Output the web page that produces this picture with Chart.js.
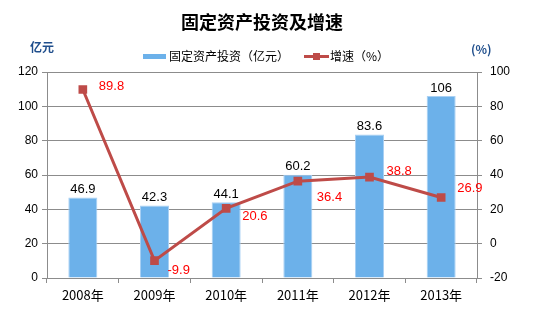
<!DOCTYPE html>
<html><head><meta charset="utf-8">
<script src="https://cdn.jsdelivr.net/npm/chart.js@4/dist/chart.umd.min.js"></script>
<style>html,body{margin:0;padding:0;background:#fff}#w{width:536px;height:322px}</style>
</head><body><div id="w"><canvas id="c" width="536" height="322"></canvas></div>
<script>
const categories = ['2008年','2009年','2010年','2011年','2012年','2013年'];
const investment = [46.9, 42.3, 44.1, 60.2, 83.6, 106];
const growth = [89.8, -9.9, 20.6, 36.4, 38.8, 26.9];
const investLabels = ['46.9','42.3','44.1','60.2','83.6','106'];
const growthLabels = ['89.8','-9.9','20.6','36.4','38.8','26.9'];
const leftTicks = [0,20,40,60,80,100,120];
const rightTicks = [-20,0,20,40,60,80,100];

const FONT = '"Liberation Sans","Noto Sans CJK SC",sans-serif';
const CJK = '"Noto Sans CJK SC","Liberation Sans",sans-serif';
const BAR = '#6CB1EA', LINE = '#BE4B48';
// label offsets (style) for growth labels: dx to left edge, dy to center
const gOff = [[16,-3],[13,10],[16,8],[19,16],[17,-6],[16,-9]];

const deco = {
  id:'deco',
  afterDraw(chart){
    const ctx = chart.ctx;
    ctx.save();
    ctx.textBaseline = 'middle';
    ctx.fillStyle = '#000';
    ctx.font = 'bold 18px ' + CJK;
    ctx.textAlign = 'center';
    ctx.fillText('固定资产投资及增速', 262, 22);
    ctx.fillStyle = '#1F4E8C';
    ctx.font = 'bold 12px ' + CJK;
    ctx.textAlign = 'left';
    ctx.fillText('亿元', 30, 47);
    ctx.fillText('(%)', 471, 49);
    ctx.fillStyle = BAR;
    ctx.fillRect(143, 54, 23, 5);
    ctx.fillStyle = '#000';
    ctx.font = '12px ' + CJK;
    ctx.fillText('固定资产投资（亿元）', 169, 56);
    ctx.strokeStyle = LINE; ctx.lineWidth = 3;
    ctx.beginPath(); ctx.moveTo(304, 56.5); ctx.lineTo(329, 56.5); ctx.stroke();
    ctx.fillStyle = LINE; ctx.fillRect(313, 53, 7, 7);
    ctx.fillStyle = '#000';
    ctx.fillText('增速（%）', 330, 56);
    ctx.font = '13px ' + FONT;
    ctx.textAlign = 'center';
    const bm = chart.getDatasetMeta(0);
    bm.data.forEach((el,i)=>{ ctx.fillText(investLabels[i], el.x, el.y - 8); });
    ctx.fillStyle = '#FF0000';
    ctx.textAlign = 'left';
    const lm = chart.getDatasetMeta(1);
    lm.data.forEach((el,i)=>{ ctx.fillText(growthLabels[i], el.x + gOff[i][0], el.y + gOff[i][1]); });
    ctx.restore();
  }
};

new Chart(document.getElementById('c'), {
  data: {
    labels: categories,
    datasets: [
      { type:'bar', label:'固定资产投资（亿元）', data: investment, yAxisID:'y',
        backgroundColor: BAR, borderColor:'#A9D0F3', borderWidth:1,
        categoryPercentage:1, barPercentage:0.405, order:2 },
      { type:'line', label:'增速（%）', data: growth, yAxisID:'y1',
        borderColor: LINE, backgroundColor: LINE, borderWidth:3,
        pointStyle:'rect', pointRadius:4, pointBackgroundColor:LINE, pointBorderColor:LINE,
        tension:0, order:1 }
    ]
  },
  options: {
    responsive:false, animation:false, devicePixelRatio:1,
    layout:{ padding:{ top:72, left:0, right:0, bottom:0 } },
    plugins:{ legend:{display:false}, title:{display:false}, tooltip:{enabled:false} },
    scales:{
      x:{
        offset:true,
        grid:{ display:true, drawOnChartArea:false, drawTicks:true, tickLength:5, color:'#8C8C8C', offset:true },
        border:{ display:true, color:'#8C8C8C', width:1 },
        ticks:{ color:'#000', font:{ size:13, family:CJK }, padding:4, maxRotation:0 },
        afterFit(s){ s.height = 44; }
      },
      y:{
        position:'left', min:0, max:120,
        afterBuildTicks(s){ s.ticks = leftTicks.map(v=>({value:v})); },
        grid:{ color:'#8C8C8C', tickLength:5, drawTicks:true },
        border:{ display:true, color:'#8C8C8C', width:1 },
        ticks:{ color:'#000', font:{ size:12, family:FONT }, padding:4 },
        afterFit(s){ s.width = 47; }
      },
      y1:{
        position:'right', min:-20, max:100,
        afterBuildTicks(s){ s.ticks = rightTicks.map(v=>({value:v})); },
        grid:{ drawOnChartArea:false, color:'#8C8C8C', tickLength:5, drawTicks:true },
        border:{ display:true, color:'#8C8C8C', width:1 },
        ticks:{ color:'#000', font:{ size:12, family:FONT }, padding:8 },
        afterFit(s){ s.width = 59; }
      }
    }
  },
  plugins:[deco]
});
</script></body></html>
